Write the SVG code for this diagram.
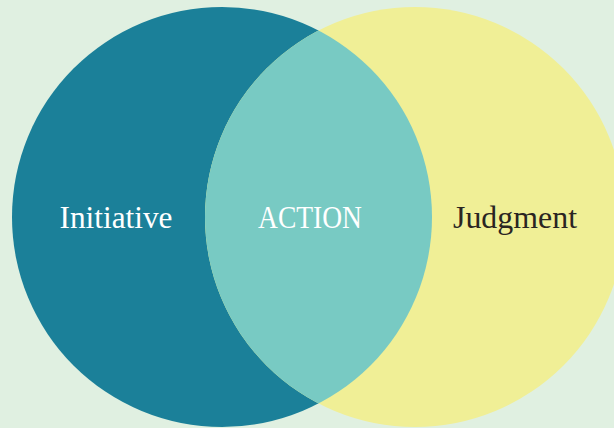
<svg xmlns="http://www.w3.org/2000/svg" width="614" height="428" viewBox="0 0 614 428">
<style>
.lbl{font-family:"Liberation Serif","DejaVu Serif",serif;font-size:31px;text-anchor:middle}
</style>
<defs>
<clipPath id="clipL"><circle cx="222" cy="217" r="210"/></clipPath>
</defs>
<rect width="614" height="428" fill="#e0f0e1"/>
<g id="initiative">
<circle cx="222" cy="217" r="210" fill="#1b8099"/>
<text class="lbl" x="116" y="228" fill="#ffffff" textLength="113" lengthAdjust="spacingAndGlyphs">Initiative</text>
</g>
<g id="judgment">
<circle cx="415" cy="217" r="210" fill="#f0ef96"/>
<text class="lbl" x="515" y="228" fill="#2a2522" textLength="124" lengthAdjust="spacingAndGlyphs">Judgment</text>
</g>
<g id="action">
<circle cx="415" cy="217" r="210" fill="#78cac3" clip-path="url(#clipL)"/>
<text class="lbl" x="310" y="228" fill="#ffffff" textLength="104" lengthAdjust="spacingAndGlyphs">ACTION</text>
</g>
<g id="connectors"/>
</svg>
